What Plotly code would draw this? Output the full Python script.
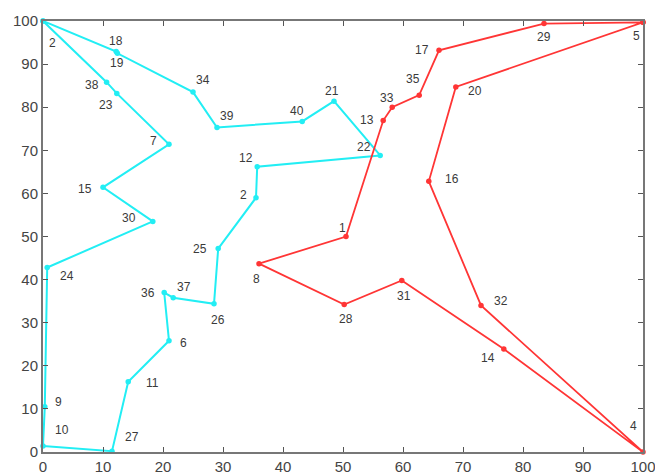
import plotly.graph_objects as go

# ---- data ----
cyan_names = ["2", "18", "19", "34", "39", "40", "21", "22", "12", "2", "25", "26", "37", "36",
              "6", "11", "27", "10", "9", "24", "30", "15", "7", "23", "38"]
cyan_x = [0, 12.2, 12.4, 25.0, 29.0, 43.2, 48.5, 56.2, 35.7, 35.5, 29.2, 28.5, 21.7, 20.2,
          21.0, 14.2, 11.5, 0.0, 0.3, 0.7, 18.3, 10.0, 21.0, 12.3, 10.6]
cyan_y = [100, 92.9, 92.5, 83.5, 75.3, 76.7, 81.4, 68.8, 66.2, 59.0, 47.2, 34.4, 35.8, 37.0,
          25.8, 16.3, 0.2, 1.4, 10.5, 42.8, 53.5, 61.4, 71.4, 83.2, 85.8]

red_names = ["5", "29", "17", "35", "33", "13", "1", "8", "28", "31", "14", "4", "32", "16", "20"]
red_x = [100, 83.5, 66.0, 62.7, 58.2, 56.7, 50.5, 36.0, 50.2, 59.8, 76.8, 100, 73.0, 64.3, 68.8]
red_y = [99.7, 99.4, 93.2, 82.8, 80.0, 76.9, 50.0, 43.7, 34.2, 39.8, 23.9, 0.0, 34.0, 62.8, 84.7]

tick_vals = [0, 10, 20, 30, 40, 50, 60, 70, 80, 90, 100]

# ---- label offsets (pixels, dx right, dy down) ----
cyan_off = [(9, 22), (0, -11), (0, 10), (10, -12), (10, -11), (-5, -10), (-2, -10), (-16, -8),
            (-11, -9), (-13, -3), (-18, 0), (4, 16), (11, -11), (-16, 0), (14, 2), (24, 1),
            (20, -14), (19, -16), (14, -5), (20, 8), (-24, -3), (-18, 2), (-16, -3), (-11, 12),
            (-15, 3)]
red_off = [(-7, 14), (0, 13), (-17, 0), (-6, -16), (-5, -9), (-16, -1), (-4, -9), (-3, 15),
           (2, 14), (2, 16), (-16, 9), (-10, -26), (20, -4), (23, -2), (19, 4)]

CYAN = "#22eef4"
RED = "#ff3535"

fig = go.Figure()
fig.add_trace(go.Scatter(x=cyan_x + [cyan_x[0]], y=cyan_y + [cyan_y[0]], mode="lines+markers",
                         line=dict(color=CYAN, width=2), marker=dict(color=CYAN, size=5.5),
                         cliponaxis=False, showlegend=False, hoverinfo="skip"))
fig.add_trace(go.Scatter(x=red_x + [red_x[0]], y=red_y + [red_y[0]], mode="lines+markers",
                         line=dict(color=RED, width=1.8), marker=dict(color=RED, size=5.5),
                         cliponaxis=False, showlegend=False, hoverinfo="skip"))

annots = []
for names, xs, ys, offs in [(cyan_names, cyan_x, cyan_y, cyan_off), (red_names, red_x, red_y, red_off)]:
    for n, x, y, (dx, dy) in zip(names, xs, ys, offs):
        annots.append(dict(x=x, y=y, text=n, showarrow=False, xshift=dx, yshift=-dy,
                           xanchor="center", yanchor="middle",
                           font=dict(size=12, color="#3a3a3a", family="Liberation Sans, Arial")))

axis_common = dict(range=[0, 100], tickvals=tick_vals, ticks="inside", ticklen=5, tickcolor="#555",
                   showline=True, linecolor="#777", linewidth=2, mirror="ticks",
                   showgrid=False, zeroline=False, automargin=False,
                   tickfont=dict(size=15, color="#444", family="Liberation Sans, Arial"))

# page body has an 8px default margin; figure is sized to fit the 663x476 window
fig.update_layout(width=655, height=468, margin=dict(l=35, r=20, t=13, b=24),
                  plot_bgcolor="white", paper_bgcolor="white",
                  xaxis=axis_common, yaxis=axis_common, annotations=annots)
fig.write_html("out.html")
